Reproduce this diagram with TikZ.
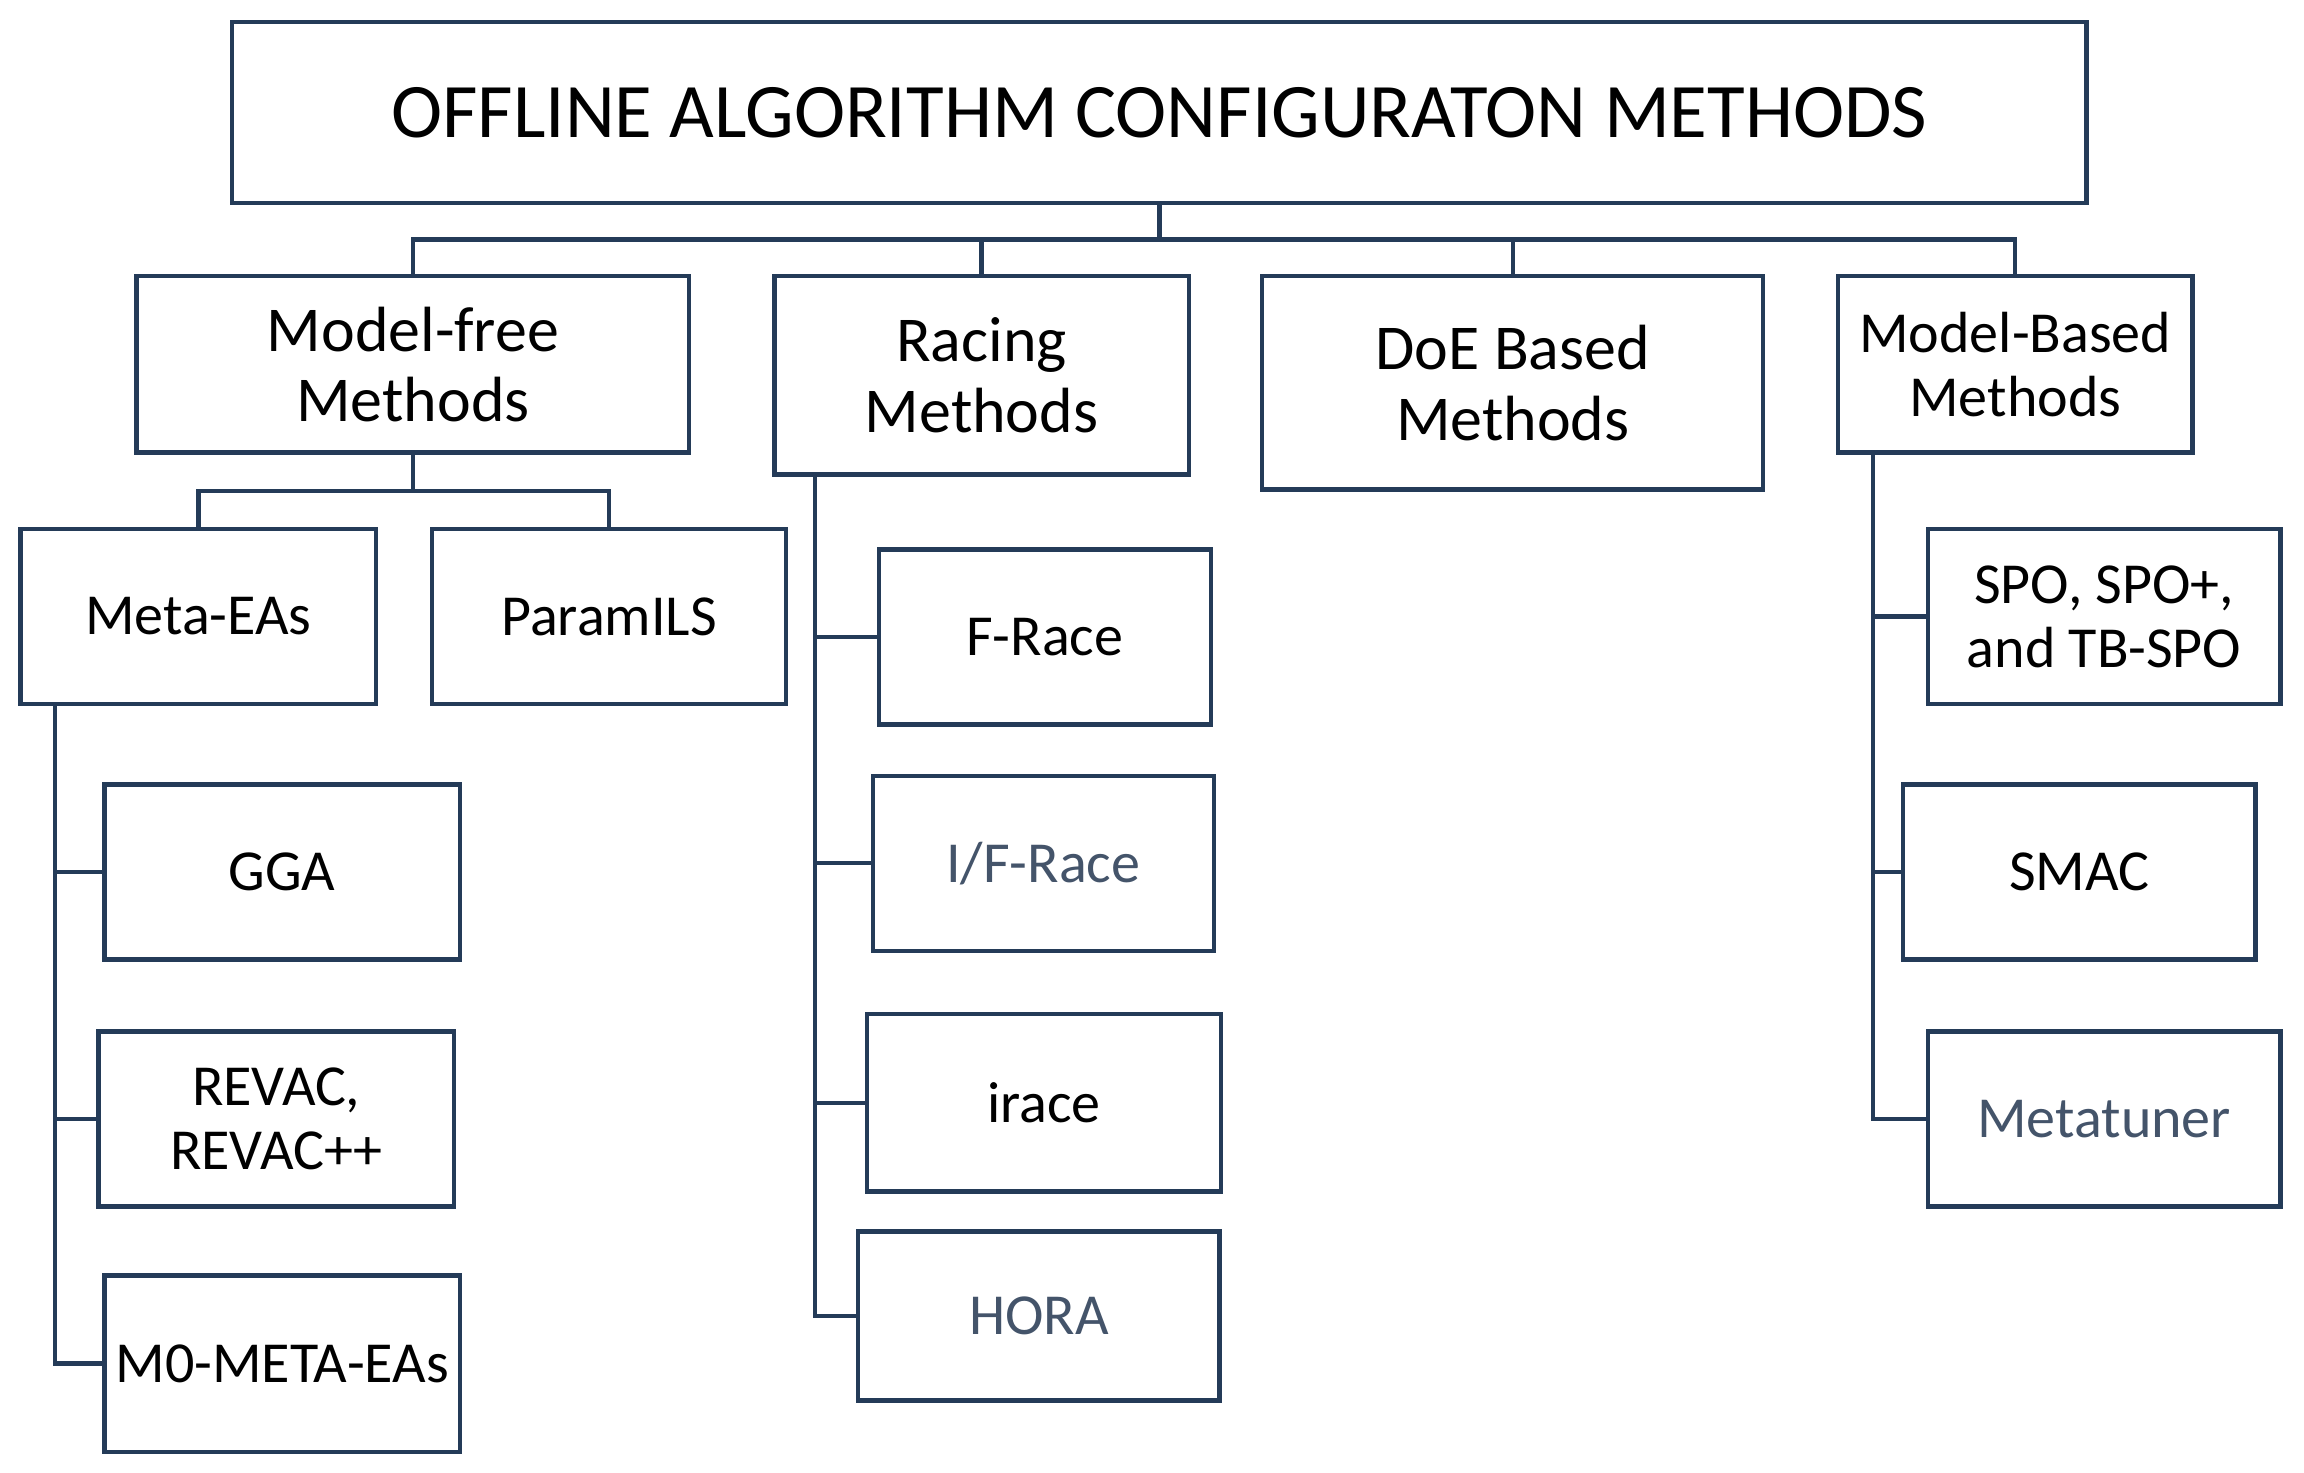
\documentclass[tikz,border=0pt]{standalone}
\usepackage{fontspec}
\setmainfont{Carlito}
\usetikzlibrary{positioning,calc}
\definecolor{boxline}{HTML}{243B58}
\definecolor{textblue}{HTML}{44546A}

\begin{document}
\begin{tikzpicture}[x=1pt, y=-1pt,
  box/.style={draw=boxline, line width=3pt, rectangle, inner sep=0pt, align=center, text=black, font=\fontsize{39.5}{43.5}\selectfont},
  bigbox/.style={box, font=\fontsize{43.5}{48}\selectfont},
  wire/.style={draw=boxline, line width=3pt}]
\useasboundingbox (0,0) rectangle (1568,1002.4);
\node[box, minimum width=1262pt, minimum height=123pt, font=\fontsize{52.5}{60}\selectfont] (title) at (789,76.5) {OFFLINE ALGORITHM CONFIGURATON METHODS};
\node[bigbox, minimum width=376pt, minimum height=120pt] (modelfree) at (281,248) {Model-free\\Methods};
\node[bigbox, minimum width=282pt, minimum height=135pt] (racing) at (668,255.5) {Racing\\Methods};
\node[bigbox, minimum width=341pt, minimum height=145pt] (doe) at (1029.5,260.5) {DoE Based\\Methods};
\node[box, minimum width=241pt, minimum height=120pt] (modelbased) at (1371.5,248) {Model-Based\\Methods};
\node[box, minimum width=242pt, minimum height=119pt] (metaeas) at (135,419.5) {Meta-EAs};
\node[box, minimum width=241pt, minimum height=119pt] (paramils) at (414.5,419.5) {ParamILS};
\node[box, minimum width=242pt, minimum height=119pt] (gga) at (192,593.5) {GGA};
\node[box, minimum width=242pt, minimum height=119pt] (revac) at (188,761.5) {REVAC,\\REVAC++};
\node[box, minimum width=242pt, minimum height=120pt] (moeas) at (192,928) {M0-META-EAs};
\node[box, minimum width=226pt, minimum height=119pt] (frace) at (711,433.5) {F-Race};
\node[box, minimum width=232pt, minimum height=119pt, text=textblue] (ifrace) at (710,587.5) {I/F-Race};
\node[box, minimum width=241pt, minimum height=121pt] (irace) at (710.5,750.5) {irace};
\node[box, minimum width=246pt, minimum height=115pt, text=textblue] (hora) at (707,895.5) {HORA};
\node[box, minimum width=240pt, minimum height=119pt] (spo) at (1432,419.5) {SPO, SPO+,\\and TB-SPO};
\node[box, minimum width=240pt, minimum height=119pt] (smac) at (1415,593.5) {SMAC};
\node[box, minimum width=240pt, minimum height=119pt, text=textblue] (metatuner) at (1432,761.5) {Metatuner};
\coordinate (topbus) at (789,163);
\coordinate (mfbus) at (281,334);
\coordinate (metatrunk) at ([xshift=25pt]metaeas.south west);
\coordinate (racetrunk) at ([xshift=29pt]racing.south west);
\coordinate (mbtrunk) at ([xshift=25pt]modelbased.south west);
\draw[wire] (title.south) -- (topbus);
\draw[wire] (modelfree.north) |- (topbus) -| (modelbased.north);
\draw[wire] (racing.north) -- (racing.north |- topbus);
\draw[wire] (doe.north) -- (doe.north |- topbus);
\draw[wire] (modelfree.south) -- (mfbus);
\draw[wire] (metaeas.north) |- (mfbus) -| (paramils.north);
\draw[wire] (metatrunk) |- (moeas.west);
\draw[wire] (metatrunk |- gga.west) -- (gga.west);
\draw[wire] (metatrunk |- revac.west) -- (revac.west);
\draw[wire] (racetrunk) |- (hora.west);
\draw[wire] (racetrunk |- frace.west) -- (frace.west);
\draw[wire] (racetrunk |- ifrace.west) -- (ifrace.west);
\draw[wire] (racetrunk |- irace.west) -- (irace.west);
\draw[wire] (mbtrunk) |- (metatuner.west);
\draw[wire] (mbtrunk |- spo.west) -- (spo.west);
\draw[wire] (mbtrunk |- smac.west) -- (smac.west);
\end{tikzpicture}
\end{document}
